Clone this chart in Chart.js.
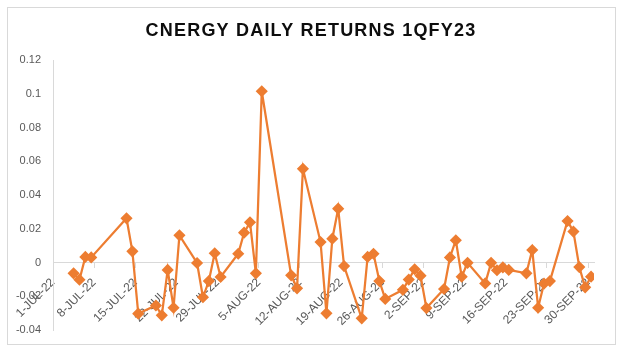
<!DOCTYPE html>
<html>
<head>
<meta charset="utf-8">
<script src="https://cdn.jsdelivr.net/npm/chart.js@4.4.1/dist/chart.umd.min.js"></script>
<style>
  body { margin: 0; background: #fff; }
  canvas { display: block; }
</style>
</head>
<body>
<canvas id="returns-chart" width="623" height="353"></canvas>
<script>
// Trading days and daily returns
const dates = [
    "2022-07-04", "2022-07-05", "2022-07-06", "2022-07-07", "2022-07-13", "2022-07-14", "2022-07-15",
    "2022-07-18", "2022-07-19", "2022-07-20", "2022-07-21", "2022-07-22", "2022-07-25", "2022-07-26",
    "2022-07-27", "2022-07-28", "2022-07-29",
    "2022-08-01", "2022-08-02", "2022-08-03", "2022-08-04", "2022-08-05", "2022-08-10", "2022-08-11",
    "2022-08-12", "2022-08-15", "2022-08-16", "2022-08-17", "2022-08-18", "2022-08-19", "2022-08-22",
    "2022-08-23", "2022-08-24", "2022-08-25", "2022-08-26", "2022-08-29", "2022-08-30", "2022-08-31",
    "2022-09-01", "2022-09-02", "2022-09-05", "2022-09-06", "2022-09-07", "2022-09-08", "2022-09-09",
    "2022-09-12", "2022-09-13", "2022-09-14", "2022-09-15", "2022-09-16", "2022-09-19", "2022-09-20",
    "2022-09-21", "2022-09-22", "2022-09-23", "2022-09-26", "2022-09-27", "2022-09-28", "2022-09-29",
    "2022-09-30"
];
const returns = [
    -0.0064, -0.0102, 0.0033, 0.0030, 0.0262, 0.0066, -0.0303,
    -0.0255, -0.0313, -0.0044, -0.0268, 0.0161, -0.0003, -0.0206,
    -0.0110, 0.0055, -0.0086,
    0.0052, 0.0177, 0.0238, -0.0064, 0.1015, -0.0076, -0.0153,
    0.0555, 0.0121, -0.0301, 0.0141, 0.0319, -0.0021, -0.0331,
    0.0033, 0.0052, -0.0110, -0.0216, -0.0162, -0.0101, -0.0040,
    -0.0078, -0.0270, -0.0157, 0.0030, 0.0132, -0.0084, -0.0002,
    -0.0124, -0.0002, -0.0046, -0.0029, -0.0044, -0.0064, 0.0074,
    -0.0268, -0.0125, -0.0110, 0.0246, 0.0183, -0.0027, -0.0147,
    -0.0084
];
const tickLabels = [
    "1-JUL-22", "8-JUL-22", "15-JUL-22", "22-JUL-22", "29-JUL-22", "5-AUG-22", "12-AUG-22",
    "19-AUG-22", "26-AUG-22", "2-SEP-22", "9-SEP-22", "16-SEP-22", "23-SEP-22", "30-SEP-22"
];
const yTicks = [-0.04, 0.12, 0.02]; // min, max, step
const chartTitle = 'CNERGY DAILY RETURNS 1QFY23';

// days since 1 Jul 2022, centred in the day slot like Excel's date axis
const startDay = Date.UTC(2022, 6, 1);
function dayIndex(s) {
    const p = s.split('-').map(Number);
    return (Date.UTC(p[0], p[1] - 1, p[2]) - startDay) / 86400000 + 0.5;
}

// light grey chart-area border + letter-spaced title
const chartFrame = {
    id: 'chartFrame',
    afterDraw(chart) {
        const ctx = chart.ctx;
        ctx.save();
        ctx.strokeStyle = '#d9d9d9';
        ctx.lineWidth = 1;
        ctx.strokeRect(7.5, 7.5, 608, 337);
        ctx.fillStyle = '#0d0d0d';
        ctx.font = "bold 18px 'Liberation Sans', Arial, sans-serif";
        ctx.letterSpacing = '1.2px';
        ctx.textAlign = 'center';
        ctx.textBaseline = 'middle';
        ctx.fillText(chartTitle, 311, 31);
        ctx.restore();
    }
};

Chart.defaults.font.family = "'Liberation Sans', Arial, sans-serif";

const ctx = document.getElementById('returns-chart').getContext('2d');
const returnsChart = new Chart(ctx, {
    type: 'line',
    data: {
        datasets: [{
            label: 'Returns',
            data: dates.map((d, i) => ({ x: dayIndex(d), y: returns[i] })),
            borderColor: '#ED7D31',
            backgroundColor: '#ED7D31',
            borderWidth: 2.25,
            pointStyle: 'rectRot',
            pointRadius: 4.5,
            pointHoverRadius: 4.5,
            tension: 0
        }]
    },
    options: {
        responsive: false,
        animation: false,
        layout: { padding: { left: 8, right: 29, top: 60, bottom: 23 } },
        plugins: {
            legend: { display: false },
            tooltip: { enabled: false },
            title: { display: false }
        },
        scales: {
            x: {
                type: 'linear',
                position: { y: 0 },
                min: 0,
                max: 92,
                grid: { drawOnChartArea: false, drawTicks: true, tickLength: 5, color: '#d9d9d9' },
                border: { color: '#d9d9d9' },
                ticks: {
                    stepSize: 7,
                    includeBounds: false,
                    autoSkip: false,
                    minRotation: 45,
                    maxRotation: 45,
                    padding: 8,
                    color: '#595959',
                    font: { size: 12 },
                    callback: v => tickLabels[Math.round(v / 7)] || ''
                }
            },
            y: {
                min: yTicks[0],
                max: yTicks[1],
                grid: { display: false },
                border: { display: true, color: '#d9d9d9' },
                afterFit: s => { s.width = 45; },
                ticks: {
                    stepSize: yTicks[2],
                    padding: 4,
                    color: '#595959',
                    font: { size: 11 },
                    callback: v => String(Number(v.toFixed(2)))
                }
            }
        }
    },
    plugins: [chartFrame]
});
</script>
</body>
</html>
